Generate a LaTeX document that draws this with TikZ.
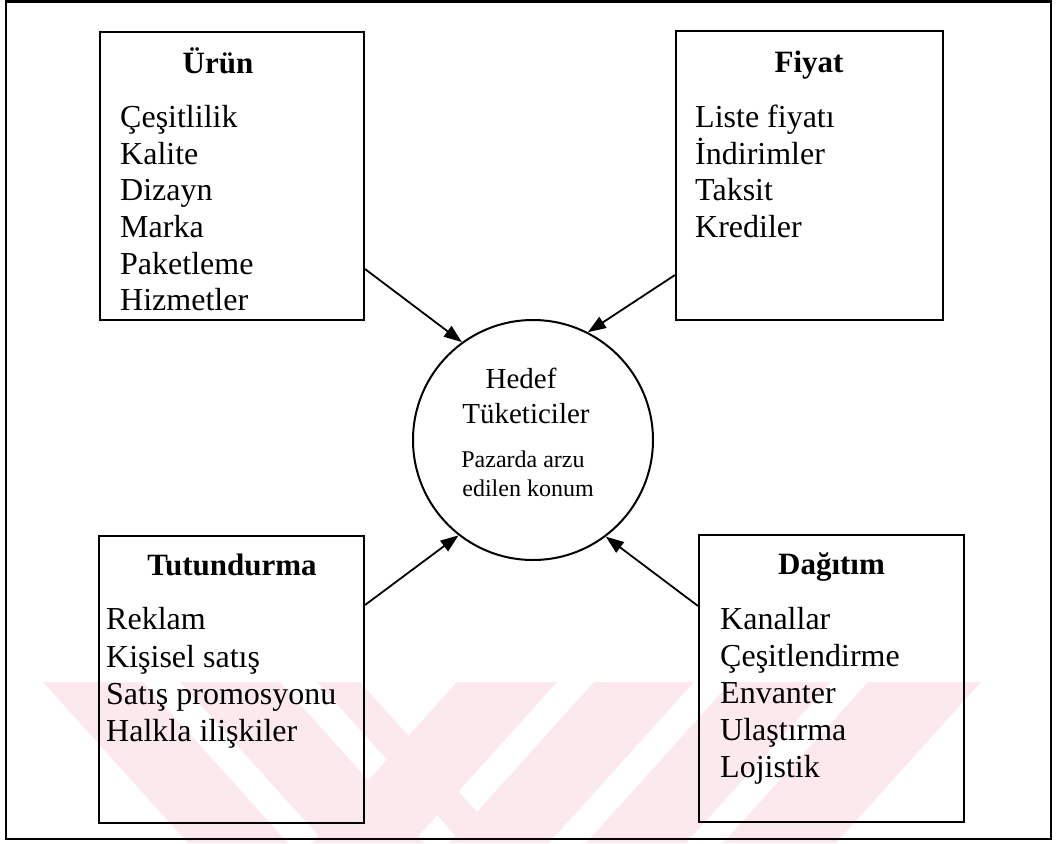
\documentclass[tikz,border=0pt]{standalone}
\usepackage{fontspec}
\setmainfont{Liberation Serif}
\usetikzlibrary{arrows.meta,calc}
\definecolor{wmpink}{RGB}{252,233,237}
\begin{document}
\begin{tikzpicture}[x=1pt,y=-1pt,
  boxframe/.style={draw, line width=2pt, inner sep=0pt},
  head/.style={font=\fontsize{31}{36}\selectfont\bfseries, inner sep=0pt, anchor=base},
  item/.style={font=\fontsize{32}{37}\selectfont, inner sep=0pt, anchor=base west},
  bigtxt/.style={font=\fontsize{29}{34}\selectfont, inner sep=0pt, anchor=base},
  smalltxt/.style={font=\fontsize{24}{28}\selectfont, inner sep=0pt, anchor=base},
  conn/.style={line width=1.8pt, -{Triangle[length=18pt,width=13pt]}},
  wm/.style={fill=wmpink}
]
\useasboundingbox (0,0) rectangle (1057,843);

% striped stamp along the bottom
\fill[wm]
  (43,682) -- (143,682) -- (288,843) -- (188,843) -- cycle
  (180,682) -- (280,682) -- (425,843) -- (325,843) -- cycle
  (317,682) -- (360,682) -- (505,843) -- (462,843) -- cycle
  (457,682) -- (557,682) -- (412,843) -- (312,843) -- cycle
  (594,682) -- (694,682) -- (549,843) -- (449,843) -- cycle
  (731,682) -- (831,682) -- (686,843) -- (586,843) -- cycle
  (868,682) -- (981,682) -- (836,843) -- (723,843) -- cycle;

% outer frame
\draw[line width=2.5pt] (6,1.5) rectangle (1051,839);

% the four boxes
\node[boxframe, minimum width=264pt, minimum height=288pt] (urun) at (232,176) {};
\node[boxframe, minimum width=267pt, minimum height=289pt] (fiyat) at (809.5,175.5) {};
\node[boxframe, minimum width=265pt, minimum height=287pt] (tut) at (231.5,679.5) {};
\node[boxframe, minimum width=265pt, minimum height=287pt] (dag) at (831.5,678.5) {};

% centre circle
\node[circle, draw, line width=2pt, minimum size=240pt, inner sep=0pt] (hedef) at (533,440) {};

% Ürün
\node[head] (urunH) at (218,74) {Ürün};
\node[item] (u1) at (120,127) {Çeşitlilik};
\node[item] (u2) at (120,164) {Kalite};
\node[item] (u3) at (120,200) {Dizayn};
\node[item] (u4) at (120,237) {Marka};
\node[item] (u5) at (120,274) {Paketleme};
\node[item] (u6) at (120,310) {Hizmetler};

% Fiyat
\node[head] (fiyatH) at (809,73) {Fiyat};
\node[item] (f1) at (695,127) {Liste fiyatı};
\node[item] (f2) at (695,164) {İndirimler};
\node[item] (f3) at (695,200) {Taksit};
\node[item] (f4) at (695,237) {Krediler};

% Tutundurma
\node[head] (tutH) at (232,575) {Tutundurma};
\node[item] (t1) at (106,629) {Reklam};
\node[item] (t2) at (106,667) {Kişisel satış};
\node[item] (t3) at (106,704) {Satış promosyonu};
\node[item] (t4) at (106,741) {Halkla ilişkiler};

% Dağıtım
\node[head] (dagH) at (831.5,574) {Dağıtım};
\node[item] (d1) at (720,629) {Kanallar};
\node[item] (d2) at (720,666) {Çeşitlendirme};
\node[item] (d3) at (720,703) {Envanter};
\node[item] (d4) at (720,740) {Ulaştırma};
\node[item] (d5) at (720,777) {Lojistik};

% circle text
\node[bigtxt] (c1) at (521,388) {Hedef};
\node[bigtxt] (c2) at (526,423) {Tüketiciler};
\node[smalltxt] (c3) at (523,467) {Pazarda arzu};
\node[smalltxt] (c4) at (528,496) {edilen konum};

% connectors
\coordinate (us) at ($(urun.north east)+(0,238)$);
\coordinate (fs) at ($(fiyat.north west)+(0,245)$);
\coordinate (ts) at ($(tut.north east)+(0,70)$);
\coordinate (ds) at ($(dag.north west)+(0,72)$);
\draw[conn] (us) -- (hedef.126.7);
\draw[conn] (fs) -- (hedef.63);
\draw[conn] (ts) -- (hedef.232);
\draw[conn] (ds) -- (hedef.307);
\end{tikzpicture}
\end{document}
